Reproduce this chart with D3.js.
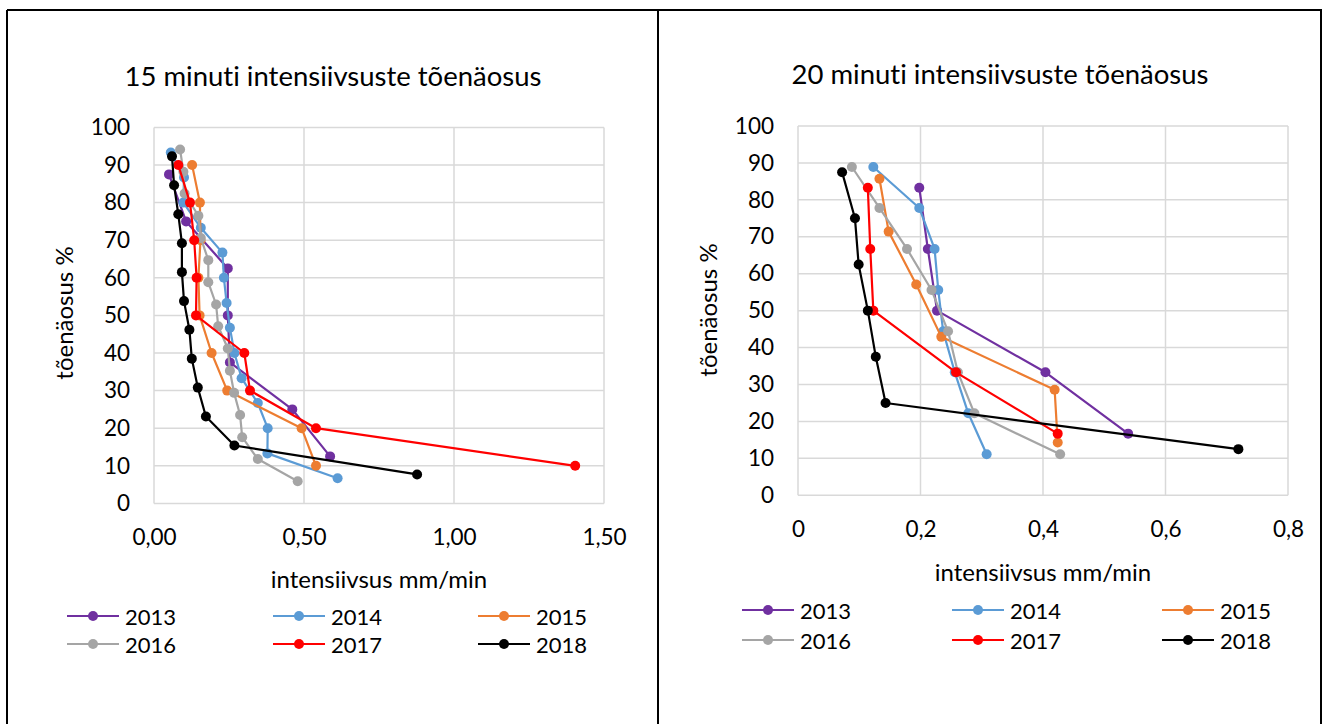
<!DOCTYPE html>
<html>
<head>
<meta charset="utf-8">
<script src="https://cdn.jsdelivr.net/npm/d3@7"></script>
<style>
  html, body { margin: 0; padding: 0; background: #fff; }
  svg { display: block; font-family: Lato, "Open Sans", sans-serif; font-variant-ligatures: none; font-feature-settings: "liga" 0; }
</style>
</head>
<body>
<svg id="chart" width="1323" height="724"></svg>
<script>
// Series names and their line colours
const years = ["2013", "2014", "2015", "2016", "2017", "2018"];
const seriesColors = ["#7030A0", "#5B9BD5", "#ED7D31", "#A5A5A5", "#FF0000", "#000000"];

// 15-minute intensities (mm/min) and exceedance probabilities (%)
const i15_2013 = [0.050, 0.107, 0.246, 0.246, 0.253, 0.461, 0.587];
const p15_2013 = [87.5, 75, 62.5, 50, 37.5, 25, 12.5];
const i15_2014 = [0.056, 0.100, 0.098, 0.156, 0.228, 0.233, 0.242, 0.253, 0.268, 0.292, 0.346, 0.379, 0.378, 0.612];
const p15_2014 = [93.3, 86.7, 80, 73.3, 66.7, 60, 53.3, 46.7, 40, 33.3, 26.7, 20, 13.3, 6.7];
const i15_2015 = [0.127, 0.153, 0.155, 0.148, 0.152, 0.192, 0.244, 0.492, 0.540];
const p15_2015 = [90, 80, 70, 60, 50, 40, 30, 20, 10];
const i15_2016 = [0.087, 0.098, 0.102, 0.148, 0.156, 0.181, 0.181, 0.207, 0.214, 0.246, 0.253, 0.267, 0.287, 0.294, 0.346, 0.479];
const p15_2016 = [94.1, 88.2, 82.4, 76.5, 70.6, 64.7, 58.8, 52.9, 47.1, 41.2, 35.3, 29.4, 23.5, 17.6, 11.8, 5.9];
const i15_2017 = [0.081, 0.120, 0.134, 0.142, 0.140, 0.301, 0.320, 0.540, 1.404];
const p15_2017 = [90, 80, 70, 60, 50, 40, 30, 20, 10];
const i15_2018 = [0.060, 0.067, 0.081, 0.093, 0.093, 0.100, 0.118, 0.126, 0.146, 0.173, 0.268, 0.877];
const p15_2018 = [92.3, 84.6, 76.9, 69.2, 61.5, 53.8, 46.2, 38.5, 30.8, 23.1, 15.4, 7.7];

// 20-minute intensities (mm/min) and exceedance probabilities (%)
const i20_2013 = [0.198, 0.212, 0.227, 0.404, 0.539];
const p20_2013 = [83.3, 66.7, 50, 33.3, 16.7];
const i20_2014 = [0.123, 0.198, 0.223, 0.229, 0.237, 0.256, 0.278, 0.308];
const p20_2014 = [88.9, 77.8, 66.7, 55.6, 44.4, 33.3, 22.2, 11.1];
const i20_2015 = [0.133, 0.148, 0.193, 0.234, 0.419, 0.424];
const p20_2015 = [85.7, 71.4, 57.1, 42.9, 28.6, 14.3];
const i20_2016 = [0.088, 0.133, 0.178, 0.218, 0.245, 0.261, 0.288, 0.428];
const p20_2016 = [88.9, 77.8, 66.7, 55.6, 44.4, 33.3, 22.2, 11.1];
const i20_2017 = [0.114, 0.118, 0.123, 0.258, 0.424];
const p20_2017 = [83.3, 66.7, 50, 33.3, 16.7];
const i20_2018 = [0.072, 0.093, 0.099, 0.114, 0.127, 0.143, 0.719];
const p20_2018 = [87.5, 75, 62.5, 50, 37.5, 25, 12.5];

// Axis ticks
const yTicks = [0, 10, 20, 30, 40, 50, 60, 70, 80, 90, 100];
const xTicks15 = [0, 0.5, 1.0, 1.5];
const xTicks20 = [0, 0.2, 0.4, 0.6, 0.8];

// Titles
const title15 = "15 minuti intensiivsuste tõenäosus";
const title20 = "20 minuti intensiivsuste tõenäosus";
const xTitle = "intensiivsus mm/min";
const yTitle = "tõenäosus %";

const zip = (xs, ys) => xs.map((x, i) => ({ x, y: ys[i] }));
const series15 = [
  zip(i15_2013, p15_2013), zip(i15_2014, p15_2014), zip(i15_2015, p15_2015),
  zip(i15_2016, p15_2016), zip(i15_2017, p15_2017), zip(i15_2018, p15_2018)
];
const series20 = [
  zip(i20_2013, p20_2013), zip(i20_2014, p20_2014), zip(i20_2015, p20_2015),
  zip(i20_2016, p20_2016), zip(i20_2017, p20_2017), zip(i20_2018, p20_2018)
];

const svg = d3.select("#chart");
const TICK_FONT = 22.5;
const AXIS_TITLE_FONT = 24;
const TITLE_FONT = 27.5;
const LEGEND_FONT = 22;
const MARKER_R = 5;

// Outer frame: two cells side by side
const frame = svg.append("g").attr("fill", "none").attr("stroke", "#000").attr("stroke-width", 2);
frame.append("line").attr("x1", 7).attr("x2", 1322).attr("y1", 10).attr("y2", 10);
frame.append("line").attr("x1", 7).attr("x2", 7).attr("y1", 10).attr("y2", 724);
frame.append("line").attr("x1", 658).attr("x2", 658).attr("y1", 10).attr("y2", 724);
frame.append("line").attr("x1", 1321).attr("x2", 1321).attr("y1", 10).attr("y2", 724);

function drawPanel(cfg) {
  const g = svg.append("g");
  const x = d3.scaleLinear().domain(cfg.xDomain).range([cfg.left, cfg.right]);
  const y = d3.scaleLinear().domain([0, 100]).range([cfg.bottom, cfg.top]);

  // Gridlines
  const grid = g.append("g").attr("stroke", "#d9d9d9").attr("stroke-width", 1.5);
  grid.selectAll("line.h").data(yTicks).join("line")
    .attr("x1", cfg.left).attr("x2", cfg.right)
    .attr("y1", d => y(d)).attr("y2", d => y(d));
  grid.selectAll("line.v").data(cfg.xTicks).join("line")
    .attr("y1", cfg.top).attr("y2", cfg.bottom)
    .attr("x1", d => x(d)).attr("x2", d => x(d));

  // Axes (labels only; lines come from the grid)
  const yAxis = g.append("g").attr("transform", `translate(${cfg.left},0)`)
    .call(d3.axisLeft(y).tickValues(yTicks).tickSize(0).tickPadding(24).tickFormat(d3.format("d")));
  const xAxis = g.append("g").attr("transform", `translate(0,${cfg.bottom})`)
    .call(d3.axisBottom(x).tickValues(cfg.xTicks).tickSize(0).tickPadding(cfg.xPad).tickFormat(cfg.fmt));
  [yAxis, xAxis].forEach(a => {
    a.select(".domain").remove();
    a.selectAll("text").attr("font-size", TICK_FONT).attr("fill", "#000").attr("font-family", "Lato, sans-serif");
  });

  // Titles
  g.append("text").attr("x", cfg.titleX).attr("y", cfg.titleY)
    .attr("text-anchor", "middle").attr("dominant-baseline", "central")
    .attr("font-size", TITLE_FONT).text(cfg.title);
  g.append("text").attr("x", (cfg.left + cfg.right) / 2).attr("y", cfg.xTitleY)
    .attr("text-anchor", "middle").attr("dominant-baseline", "central")
    .attr("font-size", AXIS_TITLE_FONT).text(xTitle);
  g.append("text")
    .attr("transform", `translate(${cfg.yTitleX},${cfg.yTitleY}) rotate(-90)`)
    .attr("text-anchor", "middle").attr("dominant-baseline", "central")
    .attr("font-size", AXIS_TITLE_FONT).text(yTitle);

  // Series: line then markers, in order
  const line = d3.line().x(d => x(d.x)).y(d => y(d.y));
  cfg.series.forEach((pts, i) => {
    const s = g.append("g");
    s.append("path").datum(pts).attr("d", line)
      .attr("fill", "none").attr("stroke", seriesColors[i]).attr("stroke-width", 2.2)
      .attr("stroke-linejoin", "round");
    s.selectAll("circle").data(pts).join("circle")
      .attr("cx", d => x(d.x)).attr("cy", d => y(d.y)).attr("r", MARKER_R)
      .attr("fill", seriesColors[i]);
  });

  // Legend: 3 columns x 2 rows
  const leg = g.append("g");
  years.forEach((yr, i) => {
    const col = i % 3, row = Math.floor(i / 3);
    const lx = cfg.legX[col], ly = cfg.legY[row];
    const item = leg.append("g").attr("transform", `translate(${lx},${ly})`);
    item.append("line").attr("x1", 0).attr("x2", 52).attr("y1", 0).attr("y2", 0)
      .attr("stroke", seriesColors[i]).attr("stroke-width", 2.2);
    item.append("circle").attr("cx", 26).attr("cy", 0).attr("r", MARKER_R).attr("fill", seriesColors[i]);
    item.append("text").attr("x", 58).attr("y", 0).attr("dominant-baseline", "central")
      .attr("font-size", LEGEND_FONT).text(yr);
  });
}

const fmt15 = v => d3.format(".2f")(v).replace(".", ",");
const fmt20 = v => (v === 0 ? "0" : d3.format(".1f")(v).replace(".", ","));

drawPanel({
  series: series15, xDomain: [0, 1.5], xTicks: xTicks15, fmt: fmt15,
  left: 154, right: 604, top: 127.4, bottom: 503.4, xPad: 26,
  title: title15, titleX: 333, titleY: 75, xTitleY: 578, yTitleX: 63, yTitleY: 313,
  legX: [67, 273, 478], legY: [616, 644]
});

drawPanel({
  series: series20, xDomain: [0, 0.8], xTicks: xTicks20, fmt: fmt20,
  left: 798, right: 1288, top: 126, bottom: 495.3, xPad: 26,
  title: title20, titleX: 1000, titleY: 73, xTitleY: 571, yTitleX: 707, yTitleY: 310,
  legX: [742, 952, 1162], legY: [610, 640]
});
</script>
</body>
</html>
